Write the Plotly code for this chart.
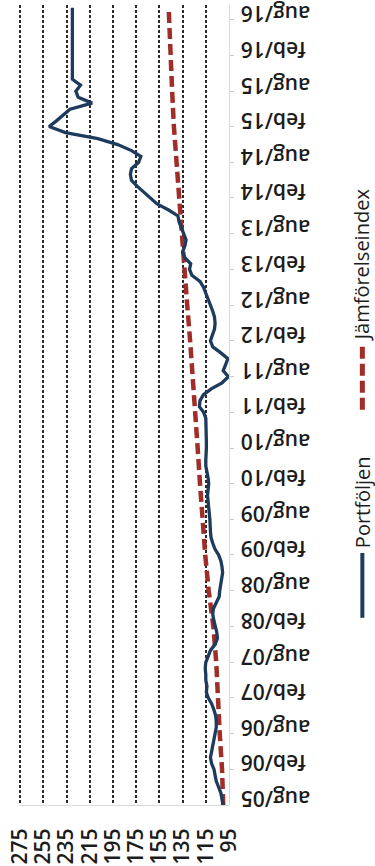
import pandas as pd
import plotly.graph_objects as go

# Monthly index values of the portfolio, aug 2005 .. oct 2016
months = pd.date_range("2005-08-01", "2016-10-01", freq="MS")
portfolio = [
    100, 101, 102, 104, 106, 107, 108, 110, 111, 110, 109, 108,      # aug/05 - jul/06
    107, 106, 106, 106.5, 108, 110, 113, 114.5, 114, 115, 115, 115.5,  # aug/06 - jul/07
    115, 113, 111, 107, 105, 105.5, 107, 108, 109, 108.5, 106, 103.5,  # aug/07 - jul/08
    103, 102, 101, 100.5, 101, 102, 104, 107, 109, 110.5, 111, 111,    # aug/08 - jul/09
    111.5, 112, 112.5, 113, 113.5, 113, 112.5, 113, 114, 115, 115, 114.5,  # aug/09 - jul/10
    114.5, 114.5, 114.5, 114.5, 115, 115, 117, 120.5, 120, 117, 110, 101,  # aug/10 - jul/11
    95.5, 100, 98, 96, 102, 109, 111, 109, 107.5, 107, 107.5, 109,     # aug/11 - jul/12
    111, 113, 115, 117, 120, 127, 129, 128, 133, 135, 133, 132,        # aug/12 - jul/13
    134, 136, 138, 139, 147, 157, 163, 169, 174, 179, 180, 179,        # aug/13 - jul/14
    173, 171, 179, 191, 208, 236, 250, 244, 238, 232, 213, 225,        # aug/14 - jul/15
    227, 223, 230, 230, 230, 230, 230, 230, 230, 230, 230, 230,        # aug/15 - jul/16
    230, 230, 230,                                                     # aug/16 - oct/16
]

# Comparison index, read every half year
bench_dates = [
    "2005-08-01", "2006-02-01", "2006-08-01", "2007-02-01", "2007-08-01",
    "2008-02-01", "2008-08-01", "2009-02-01", "2009-08-01", "2010-02-01",
    "2010-08-01", "2011-02-01", "2011-08-01", "2012-02-01", "2012-08-01",
    "2013-02-01", "2013-08-01", "2014-02-01", "2014-08-01", "2015-02-01",
    "2015-08-01", "2016-02-01", "2016-08-01", "2016-10-01",
]
benchmark = [
    100, 101, 103, 104.5, 106, 108.5, 112.5, 115.5, 118, 120,
    122, 124, 126, 128.5, 131, 133.5, 136, 138.5, 140.5, 142.5,
    144, 145.5, 146.5, 147,
]

value_ticks = [275, 255, 235, 215, 195, 175, 155, 135, 115, 95]
date_ticks = bench_dates[:-1]
date_labels = [
    "aug/05", "feb/06", "aug/06", "feb/07", "aug/07", "feb/08", "aug/08",
    "feb/09", "aug/09", "feb/10", "aug/10", "feb/11", "aug/11", "feb/12",
    "aug/12", "feb/13", "aug/13", "feb/14", "aug/14", "feb/15", "aug/15",
    "feb/16", "aug/16",
]

NAVY = "#1d3b5c"
RED = "#a02d27"
FONT = "Open Sans"
TXT = "#1c1c1c"
tick_font = dict(family=FONT, size=21, color=TXT, weight=600)

fig = go.Figure()
fig.add_trace(go.Scatter(
    x=benchmark, y=bench_dates, mode="lines", name="Jämförelseindex",
    line=dict(color=RED, width=4.5, dash="11px,5px"),
))
fig.add_trace(go.Scatter(
    x=portfolio, y=months, mode="lines", name="Portföljen",
    line=dict(color=NAVY, width=3.3),
))

# Legend drawn sideways to the right of the plot
legend_x = 1.635
fig.add_shape(type="line", xref="paper", yref="paper",
              x0=legend_x, x1=legend_x, y0=0.234, y1=0.315,
              line=dict(color=NAVY, width=4))
fig.add_shape(type="line", xref="paper", yref="paper",
              x0=legend_x, x1=legend_x, y0=0.494, y1=0.578,
              line=dict(color=RED, width=5, dash="12px,5px"))
for label, ypos in [("Portföljen", 0.379), ("Jämförelseindex", 0.675)]:
    fig.add_annotation(text=label, xref="paper", yref="paper",
                       x=legend_x, y=ypos, xanchor="center", yanchor="middle",
                       textangle=-90, showarrow=False,
                       font=dict(family=FONT, size=20, color=TXT))

fig.update_layout(
    width=375, height=866,
    margin=dict(l=19, r=146, t=5, b=61),
    paper_bgcolor="white", plot_bgcolor="white",
    showlegend=False,
    xaxis=dict(
        range=[276, 95], tickvals=value_ticks, tickangle=-90,
        showgrid=True, gridcolor="#2a2a2a", gridwidth=1.5, griddash="3px,2px",
        showline=True, linecolor="#d9d9d9", linewidth=1, zeroline=False,
        ticks="", ticklabelstandoff=14, automargin=False,
        tickfont=tick_font,
    ),
    # Date axis sits on the right edge of the plot; labels are turned upside
    # down so they read from the axis outward
    yaxis=dict(
        type="date", anchor="free", position=1, side="left",
        range=["2005-08-01", "2016-10-15"],
        tickvals=date_ticks, ticktext=date_labels, tickangle=180,
        ticklabelstandoff=-16, automargin=False,
        showgrid=False, zeroline=False,
        showline=True, linecolor="#d9d9d9", linewidth=1,
        ticks="inside", ticklen=4, tickcolor="#cccccc",
        tickfont=tick_font,
    ),
)

fig.write_html("out.html")
